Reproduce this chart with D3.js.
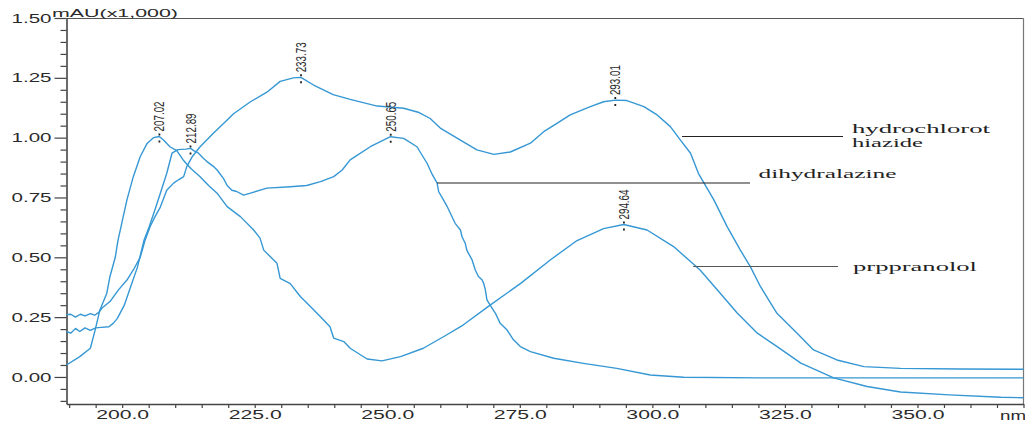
<!DOCTYPE html>
<html><head><meta charset="utf-8">
<script src="https://cdn.jsdelivr.net/npm/d3@7"></script>
<style>body{margin:0;background:#fff;} svg{display:block;}</style>
</head><body><svg id="c" width="1025" height="423"></svg>
<script>
// ---- data ----
const hctzNm  = [189.5,190.3,191.2,192.1,193,194,194.8,195.6,196.2,197.7,199.3,200.9,202.1,203.4,204.3,205.3,206.2,207.2,208.4,209.7,210.7,211.6,212.2,213.2,214.7,217.2,219.8,221,224.2,227.3,229.8,232.3,233.7,236.1,239.8,243,248.1,253.1,256,258.1,260,263.8,266.9,270.1,273.2,277,279.5,282,284.5,288.3,290.8,293,295.2,298.4,300.9,303.4,305.3,307.2,308.7,311.6,314.1,316.6,318.5,320.4,323.5,327.3,330.4,334.8,339.9,346.8,358,370];
const hctzAbs = [0.26,0.262,0.25,0.262,0.255,0.265,0.258,0.27,0.288,0.315,0.364,0.405,0.447,0.50,0.57,0.63,0.67,0.71,0.78,0.81,0.825,0.837,0.88,0.92,0.962,1.018,1.074,1.10,1.15,1.19,1.235,1.25,1.252,1.22,1.18,1.16,1.132,1.123,1.105,1.08,1.04,0.99,0.949,0.93,0.94,0.977,1.025,1.06,1.095,1.13,1.15,1.157,1.155,1.13,1.095,1.046,0.99,0.935,0.85,0.74,0.628,0.53,0.46,0.377,0.266,0.183,0.113,0.071,0.043,0.036,0.033,0.032];

const dhzNm  = [189.5,190.3,191.2,192,193,194,195,196,197.5,198.3,199.1,200.4,201.6,202.9,204.1,205.1,206.2,207.2,208.4,209.4,210.5,212,212.9,213.5,214.4,215.3,216,217.2,217.9,219.1,219.8,220.7,221.6,222.9,224.2,227.3,231.7,234.8,237.4,239.9,241.5,243,246.8,250.6,253.1,255.6,257.5,258.4,259.4,259.7,260.6,261.3,261.9,262.8,263.8,264.1,264.7,265,266,266.6,267.2,267.9,268.2,268.5,268.8,269.4,270.4,271.3,272.6,273.8,275.1,277,281.4,287,293.3,299.6,305.9,320,345,370];
const dhzAbs = [0.19,0.183,0.203,0.19,0.205,0.195,0.205,0.207,0.21,0.224,0.245,0.30,0.377,0.46,0.57,0.628,0.70,0.768,0.85,0.935,0.95,0.952,0.955,0.946,0.935,0.914,0.90,0.88,0.865,0.83,0.80,0.78,0.775,0.76,0.768,0.789,0.795,0.80,0.816,0.837,0.865,0.907,0.962,1.004,0.997,0.962,0.893,0.85,0.81,0.774,0.74,0.712,0.684,0.642,0.614,0.586,0.559,0.53,0.489,0.447,0.42,0.405,0.39,0.364,0.322,0.30,0.266,0.224,0.196,0.155,0.127,0.106,0.078,0.057,0.036,0.008,-0.001,-0.004,-0.004,-0.004];

const propNm  = [189.5,192,194,194.9,195.8,197.1,197.7,198.7,199.2,199.9,200.9,202.1,203.4,204.7,205.9,207.0,207.8,209,210.3,211.5,213,214.7,216.3,217.9,219.8,222.3,224.8,226,226.7,229.2,229.8,231.7,233.6,235.5,237.4,239.2,239.9,241.8,243,246.2,249,252.5,256.8,260.6,264.3,269.4,275.1,280.8,285.8,290.8,294.6,299,304,309,312.8,316,319.8,323.6,328,334.2,340.5,346.8,356,365.7,370];
const propAbs = [0.05,0.085,0.12,0.196,0.28,0.35,0.42,0.50,0.57,0.64,0.74,0.837,0.92,0.976,1.0,1.005,0.99,0.962,0.946,0.907,0.87,0.837,0.80,0.768,0.712,0.67,0.614,0.58,0.53,0.475,0.412,0.39,0.336,0.294,0.252,0.21,0.162,0.148,0.12,0.075,0.067,0.085,0.12,0.168,0.217,0.30,0.39,0.49,0.57,0.62,0.637,0.614,0.545,0.447,0.35,0.267,0.183,0.126,0.058,-0.004,-0.04,-0.063,-0.075,-0.085,-0.087];

const yMajorTicks = [0.00,0.25,0.50,0.75,1.00,1.25,1.50];
const xMajorTicks = [200,225,250,275,300,325,350];
const peakNm     = [207.02,212.89,233.73,250.65,293.01,294.64];
const peakAbs    = [1.005,0.955,1.252,1.004,1.157,0.637];
const peakLabels = ["207.02","212.89","233.73","250.65","293.01","294.64"];
const seriesNames = [["hydrochlorot","hiazide"],["dihydralazine"],["prppranolol"]];
const yTitle = "mAU(x1,000)";
const xUnit = "nm";

// ---- drawing ----
const svg = d3.select("#c");
const x = d3.scaleLinear().domain([189.5,370]).range([66.5,1023.5]);
const y = d3.scaleLinear().domain([-0.113,1.5]).range([404,18]);
const lineColor = "#3597d4";
const txt = "#2a2a2a";

// frame top/right
svg.append("line").attr("x1",66.5).attr("x2",1023.5).attr("y1",18.5).attr("y2",18.5).attr("stroke","#555").attr("stroke-width",1.2);
svg.append("line").attr("x1",1023.5).attr("x2",1023.5).attr("y1",18.5).attr("y2",404).attr("stroke","#777").attr("stroke-width",1.2);

// y axis minor
const yMinor = d3.range(-0.10,1.501,0.05).filter(v=>!yMajorTicks.some(t=>Math.abs(t-v)<1e-6));
svg.append("g").attr("transform","translate(66.5,0)")
  .call(d3.axisLeft(y).tickValues(yMinor).tickSize(6).tickSizeOuter(0).tickFormat(""))
  .call(g=>g.select(".domain").attr("stroke","#444").attr("stroke-width",1.6))
  .call(g=>g.selectAll(".tick line").attr("stroke","#444").attr("stroke-width",1.2));
svg.append("g").attr("transform","translate(66.5,0)")
  .call(d3.axisLeft(y).tickValues(yMajorTicks).tickSize(12).tickPadding(3).tickSizeOuter(0).tickFormat(d3.format(".2f")))
  .call(g=>g.select(".domain").remove())
  .call(g=>g.selectAll(".tick line").attr("stroke","#444").attr("stroke-width",1.2))
  .call(g=>g.selectAll(".tick text").attr("font-family","Liberation Sans, Arial, sans-serif").attr("font-size",13).attr("fill",txt)
      .attr("textLength",40).attr("lengthAdjust","spacingAndGlyphs"));

// x axis
const xMinor = d3.range(190,370.1,5).filter(v=>!xMajorTicks.includes(v));
svg.append("g").attr("transform","translate(0,404)")
  .call(d3.axisBottom(x).tickValues(xMinor).tickSize(4).tickSizeOuter(0).tickFormat(""))
  .call(g=>g.select(".domain").attr("stroke","#444").attr("stroke-width",1.6))
  .call(g=>g.selectAll(".tick line").attr("stroke","#444").attr("stroke-width",1.2));
svg.append("g").attr("transform","translate(0,404)")
  .call(d3.axisBottom(x).tickValues(xMajorTicks).tickSize(4).tickPadding(2).tickSizeOuter(0).tickFormat(d3.format(".1f")))
  .call(g=>g.select(".domain").remove())
  .call(g=>g.selectAll(".tick line").attr("stroke","#444").attr("stroke-width",1.2))
  .call(g=>g.selectAll(".tick text").attr("font-family","Liberation Sans, Arial, sans-serif").attr("font-size",13).attr("fill",txt)
      .attr("textLength",53).attr("lengthAdjust","spacingAndGlyphs"));

svg.append("text").attr("x",1000).attr("y",419.5).text(xUnit)
  .attr("font-family","Liberation Sans, Arial, sans-serif").attr("font-size",13).attr("fill",txt)
  .attr("textLength",26).attr("lengthAdjust","spacingAndGlyphs");
svg.append("text").attr("x",52).attr("y",16.6).text(yTitle)
  .attr("font-family","Liberation Sans, Arial, sans-serif").attr("font-size",10.5).attr("fill",txt)
  .attr("textLength",126).attr("lengthAdjust","spacingAndGlyphs");

// curves
const line = d3.line().x(d=>x(d[0])).y(d=>y(d[1]));
const series = [[hctzNm,hctzAbs],[dhzNm,dhzAbs],[propNm,propAbs]];
series.forEach(([nm,ab])=>{
  svg.append("path").datum(d3.zip(nm,ab)).attr("d",line)
    .attr("fill","none").attr("stroke",lineColor).attr("stroke-width",1.4).attr("stroke-linejoin","round");
});

// peak labels
peakNm.forEach((nm,i)=>{
  const px = x(nm), py = y(peakAbs[i]);
  svg.append("line").attr("x1",px).attr("x2",px).attr("y1",py-3).attr("y2",py+11)
    .attr("stroke","#222").attr("stroke-width",1.8).attr("stroke-dasharray","2,5");
  svg.append("text").attr("transform",`translate(${px+5},${py-5}) rotate(-90)`)
    .text(peakLabels[i]).attr("font-family","Liberation Sans Narrow, Liberation Sans, Arial, sans-serif")
    .attr("font-size",14).attr("fill",txt).attr("textLength",30).attr("lengthAdjust","spacingAndGlyphs");
});

// leader lines + names
const serif = "Liberation Serif, Times New Roman, serif";
const leaders = [
  {x1:x(305.6), x2:843, y:136.5, col:"#222", texts:[{t:seriesNames[0][0],x:852,y:132.5,w:138},{t:seriesNames[0][1],x:852,y:146.5,w:71}]},
  {x1:x(259.4), x2:750, y:183, col:"#222", texts:[{t:seriesNames[1][0],x:758.5,y:177.5,w:138}]},
  {x1:x(307.7), x2:838, y:266.5, col:"#555", texts:[{t:seriesNames[2][0],x:853,y:271,w:124}]}
];
leaders.forEach(L=>{
  svg.append("line").attr("x1",L.x1).attr("x2",L.x2).attr("y1",L.y).attr("y2",L.y).attr("stroke",L.col).attr("stroke-width",1.2);
  L.texts.forEach(T=>{
    svg.append("text").attr("x",T.x).attr("y",T.y).text(T.t).attr("font-family",serif).attr("font-size",13)
      .attr("fill","#222").attr("textLength",T.w).attr("lengthAdjust","spacingAndGlyphs");
  });
});
</script></body></html>
